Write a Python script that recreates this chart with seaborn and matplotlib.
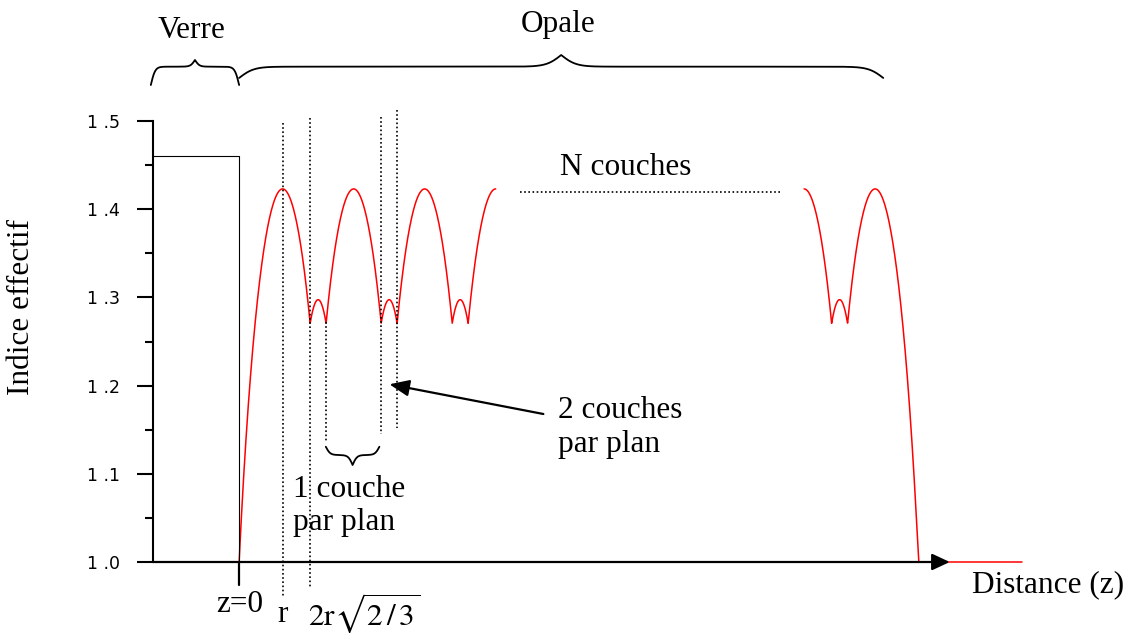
import numpy as np
import matplotlib.pyplot as plt
import seaborn as sns

# Indice effectif d'une opale : verre puis N couches de spheres (z en unites de r)
n_verre = 1.46
n_max = 1.423                 # indice au centre d'une couche
d = 2 * np.sqrt(2 / 3)        # distance entre plans (en r)
centres_debut = [1, 1 + d, 1 + 2 * d, 1 + 3 * d]
centres_fin = [12.99, 12.99 + d]
z_fin_axe = 18.0
yticks = [1.0, 1.1, 1.2, 1.3, 1.4, 1.5]
ytick_labels = ["1 .0", "1 .1", "1 .2", "1 .3", "1 .4", "1 .5"]
yminor = [1.05, 1.15, 1.25, 1.35, 1.45]


def indice(z, centres):
    f = np.zeros_like(z)
    for c in centres:
        f += np.clip(1 - (z - c) ** 2, 0, None)
    return np.sqrt(1 + (n_max ** 2 - 1) * f)


def accolade(ax, x0, x1, y_bouts, bras, pointe, s, sens=1):
    sig = lambda u: 1 / (1 + np.exp(-u))
    xm = (x0 + x1) / 2
    t = np.linspace(x0, xm, 300)
    h = bras * (2 * sig((t - x0) / s) - 1) + 2 * pointe * sig((t - xm) / s)
    xs = np.concatenate([t, (x0 + x1) - t[::-1]])
    ys = y_bouts + sens * np.concatenate([h, h[::-1]])
    ax.plot(xs, ys, color="black", lw=1.3, clip_on=False)


sns.set_theme(style="white")
plt.rcParams["font.family"] = ["Liberation Serif", "DejaVu Serif"]
plt.rcParams["mathtext.fontset"] = "stix"
plt.rcParams["text.color"] = "black"

fig = plt.figure(figsize=(11.34, 6.33), dpi=100)
ax = fig.add_axes([153 / 1134, 1 - 562 / 633, (1022 - 153) / 1134, (562 - 121) / 633])
x_axe = -1.98
ax.set_xlim(x_axe, z_fin_axe)
ax.set_ylim(1.0, 1.5)

# courbes rouges
z1 = np.linspace(0, centres_debut[-1], 3000)
z2 = np.linspace(centres_fin[0], z_fin_axe, 3000)
sns.lineplot(x=z1, y=indice(z1, centres_debut), ax=ax, color="red", lw=1.1,
             estimator=None, sort=False)
sns.lineplot(x=z2, y=indice(z2, centres_fin), ax=ax, color="red", lw=1.1,
             estimator=None, sort=False)
for l in ax.lines:
    l.set_clip_on(False)
    l.set_zorder(2)

# verre
ax.plot([x_axe, 0, 0], [n_verre, n_verre, 1.0], color="black", lw=0.8, clip_on=False)

# axe des z
ax.annotate("", xy=(16.34, 1.0), xytext=(x_axe, 1.0), annotation_clip=False,
            arrowprops=dict(arrowstyle="-|>,head_length=0.6,head_width=0.28",
                            color="black", lw=1.6, mutation_scale=18,
                            shrinkA=0, shrinkB=0), zorder=3)
ax.plot([0, 0], [1.0, 0.974], color="black", lw=1.6, clip_on=False)

# pointilles
dots = (0, (1, 1.5))
for x, y0, y1 in [(1, 1.498, 0.960), (d, 1.503, 0.9705), (2, 1.272, 1.136),
                  (2 * d, 1.505, 1.145), (d + 2, 1.512, 1.152)]:
    ax.plot([x, x], [y0, y1], color="black", lw=1.2, ls=dots, clip_on=False)
ax.plot([6.46, 12.476], [1.4198, 1.4198], color="black", lw=1.2, ls=dots)

# fleche "2 couches par plan"
ax.annotate("", xy=(3.455, 1.2015), xytext=(6.995, 1.1678), annotation_clip=False,
            arrowprops=dict(arrowstyle="-|>,head_length=0.6,head_width=0.25",
                            color="black", lw=1.6, mutation_scale=20,
                            shrinkA=0, shrinkB=0))

# accolades
accolade(ax, -2.03, 0, 1.5408, 0.0208, 0.0076, 0.05)
accolade(ax, 0, 14.81, 1.5488, 0.0128, 0.0132, 0.17)
accolade(ax, 1.993, 3.225, 1.1307, 0.0094, 0.0113, 0.05, sens=-1)

fs = 22.5
txt = dict(fontsize=fs, color="black", va="baseline", clip_on=False)
ax.text(-1.103, 1.594, "Verre", ha="center", **txt)
ax.text(7.333, 1.601, "Opale", ha="center", **txt)
ax.text(8.897, 1.4388, "N couches", ha="center", **txt)
ax.text(7.333, 1.1629, "2 couches", ha="left", **txt)
ax.text(7.333, 1.125, "par plan", ha="left", **txt)
ax.text(1.248, 1.074, "1 couche", ha="left", **txt)
ax.text(1.248, 1.0363, "par plan", ha="left", **txt)
ax.text(0.02, 0.9436, "z=0", ha="center", **txt)
ax.text(1.0, 0.932, "r", ha="center", **txt)
ax.text(1.59, 0.9286, r"$\mathrm{2r}\sqrt{2\,/\,3}$", ha="left", **txt)
ax.text(16.84, 0.9663, "Distance (z)", ha="left", **txt)
fig.text(22 / 1134, 1 - 307 / 633, "Indice effectif", rotation=90,
         ha="center", va="center", fontsize=fs, color="black")

# axe vertical
for side in ["top", "right", "bottom"]:
    ax.spines[side].set_visible(False)
ax.spines["left"].set_color("black")
ax.spines["left"].set_linewidth(1.5)
ax.set_xticks([])
ax.set_yticks(yticks)
ax.set_yticklabels(ytick_labels, fontfamily="DejaVu Sans", fontsize=12.5)
ax.set_yticks(yminor, minor=True)
ax.tick_params(axis="y", which="major", length=11.5, width=1.5, pad=12,
               left=True, direction="out", colors="black", labelcolor="black")
ax.tick_params(axis="y", which="minor", length=5.8, width=1.5, left=True,
               direction="out", colors="black")
ax.patch.set_alpha(0)

fig.savefig("out.png", dpi=100)
